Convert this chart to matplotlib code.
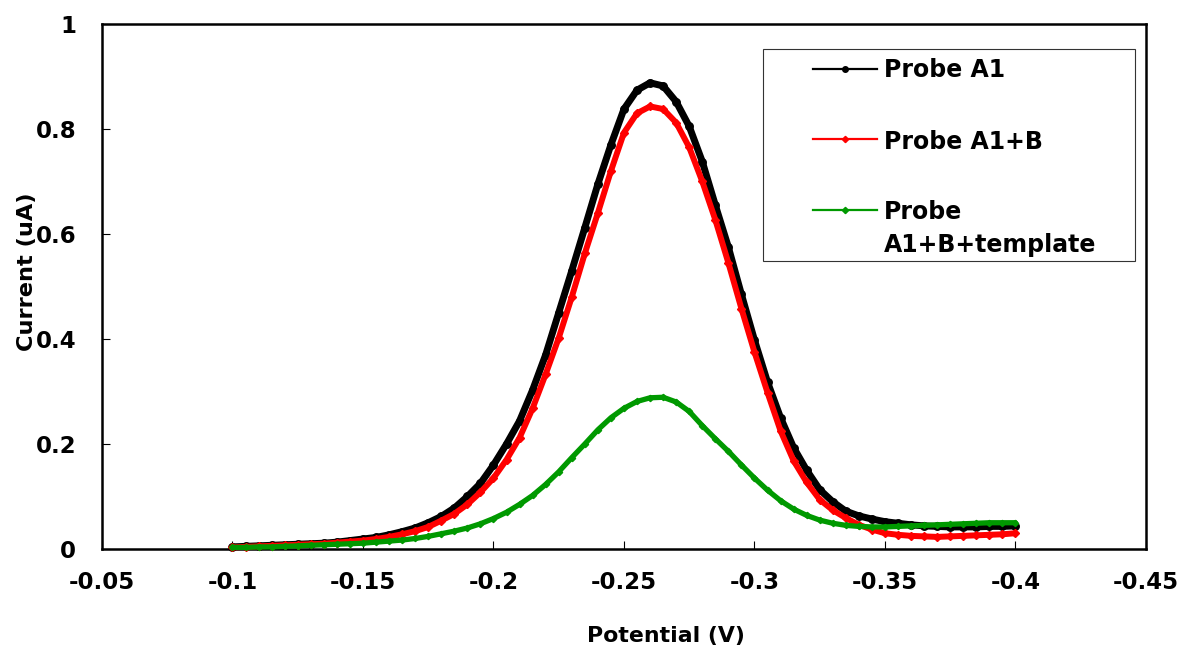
#!/usr/bin/env python3
"""
Square-wave voltammograms of three probe stages: current vs potential.
Values were read off the original figure every 5 mV.
"""
import numpy as np
import matplotlib
matplotlib.use('Agg')
import matplotlib.pyplot as plt
from matplotlib.lines import Line2D
from matplotlib.patches import Rectangle
from matplotlib.ticker import FuncFormatter, MultipleLocator

# potential (V), -0.100 ... -0.400 in 5 mV steps
potential = [
    -0.100, -0.105, -0.110, -0.115, -0.120, -0.125, -0.130, -0.135, -0.140, -0.145,
    -0.150, -0.155, -0.160, -0.165, -0.170, -0.175, -0.180, -0.185, -0.190, -0.195,
    -0.200, -0.205, -0.210, -0.215, -0.220, -0.225, -0.230, -0.235, -0.240, -0.245,
    -0.250, -0.255, -0.260, -0.265, -0.270, -0.275, -0.280, -0.285, -0.290, -0.295,
    -0.300, -0.305, -0.310, -0.315, -0.320, -0.325, -0.330, -0.335, -0.340, -0.345,
    -0.350, -0.355, -0.360, -0.365, -0.370, -0.375, -0.380, -0.385, -0.390, -0.395,
    -0.400,
]

# current (uA)
probe_a1 = [
    0.004, 0.005, 0.006, 0.007, 0.008, 0.009, 0.010, 0.011, 0.013, 0.016,
    0.019, 0.022, 0.027, 0.033, 0.040, 0.050, 0.062, 0.078, 0.100, 0.125,
    0.160, 0.200, 0.244, 0.303, 0.370, 0.450, 0.530, 0.612, 0.695, 0.770,
    0.838, 0.874, 0.888, 0.882, 0.852, 0.805, 0.738, 0.655, 0.575, 0.485,
    0.398, 0.318, 0.250, 0.193, 0.150, 0.113, 0.090, 0.072, 0.063, 0.057,
    0.052, 0.049, 0.046, 0.044, 0.043, 0.042, 0.042, 0.042, 0.043, 0.043,
    0.044,
]
probe_a1_b = [
    0.003, 0.004, 0.005, 0.006, 0.007, 0.008, 0.009, 0.010, 0.012, 0.014,
    0.016, 0.019, 0.023, 0.028, 0.034, 0.042, 0.054, 0.067, 0.085, 0.108,
    0.135, 0.170, 0.212, 0.268, 0.333, 0.402, 0.480, 0.563, 0.640, 0.720,
    0.793, 0.830, 0.843, 0.838, 0.812, 0.765, 0.700, 0.627, 0.545, 0.458,
    0.375, 0.298, 0.225, 0.168, 0.127, 0.094, 0.074, 0.059, 0.046, 0.037,
    0.030, 0.027, 0.025, 0.024, 0.023, 0.024, 0.025, 0.026, 0.027, 0.028,
    0.030,
]
probe_a1_b_template = [
    0.003, 0.003, 0.004, 0.004, 0.005, 0.006, 0.007, 0.008, 0.009, 0.010,
    0.011, 0.013, 0.015, 0.017, 0.020, 0.024, 0.029, 0.034, 0.040, 0.048,
    0.058, 0.070, 0.085, 0.102, 0.123, 0.147, 0.174, 0.200, 0.227, 0.250,
    0.268, 0.281, 0.288, 0.289, 0.280, 0.262, 0.235, 0.210, 0.186, 0.160,
    0.135, 0.112, 0.092, 0.076, 0.064, 0.055, 0.049, 0.045, 0.043, 0.042,
    0.042, 0.043, 0.044, 0.045, 0.046, 0.047, 0.048, 0.049, 0.050, 0.050,
    0.050,
]

series_labels = ['Probe A1', 'Probe A1+B', 'Probe', 'A1+B+template']
x_ticks = [-0.05, -0.1, -0.15, -0.2, -0.25, -0.3, -0.35, -0.4, -0.45]

BLACK = '#000000'
RED = '#ff0000'
GREEN = '#009900'

plt.rcParams['font.family'] = ['DejaVu Sans']
plt.rcParams['font.weight'] = 'bold'

fig = plt.figure(figsize=(11.82, 6.47), dpi=100)
ax = fig.add_axes([0.0863, 0.1515, 0.8832, 0.8114])

x = np.array(potential)
common = dict(solid_capstyle='round', solid_joinstyle='round', clip_on=False)
ax.plot(x, probe_a1, color=BLACK, lw=5.0, marker='o', ms=5.4, zorder=3, **common)
ax.plot(x, probe_a1_b, color=RED, lw=4.3, marker='D', ms=3.8, zorder=4, **common)
ax.plot(x, probe_a1_b_template, color=GREEN, lw=3.8, marker='D', ms=3.2, zorder=5, **common)

ax.set_xlim(-0.05, -0.45)
ax.set_ylim(0, 1)
ax.set_xticks(x_ticks)
ax.yaxis.set_major_locator(MultipleLocator(0.2))
fmt = FuncFormatter(lambda v, pos: '%g' % round(v, 3))
ax.xaxis.set_major_formatter(fmt)
ax.yaxis.set_major_formatter(fmt)

ax.tick_params(axis='x', direction='in', length=6, width=0.8, pad=15.5,
               labelsize=16.5, top=False)
ax.tick_params(axis='y', direction='in', length=6, width=0.8, pad=18.5,
               labelsize=16.5, right=False)
for sp in ax.spines.values():
    sp.set_linewidth(1.8)

ax.set_xlabel('Potential (V)', fontsize=15.8, fontweight='bold')
ax.set_ylabel('Current (uA)', fontsize=16.2, fontweight='bold')
ax.xaxis.set_label_coords(0.540, -0.146)
ax.yaxis.set_label_coords(-0.0625, 0.5276)

# legend box drawn by hand so the handle sits on the first text line
box = Rectangle((0.633, 0.5485), 0.3565, 0.4035, transform=ax.transAxes,
                facecolor='white', edgecolor='#333333', lw=0.8, zorder=6)
ax.add_patch(box)
rows = [(0.914, BLACK, 'o', 4.0), (0.781, RED, 'D', 3.2), (0.646, GREEN, 'D', 3.2)]
for (yy, col, mk, ms) in rows:
    ax.add_line(Line2D([0.681, 0.742], [yy, yy], transform=ax.transAxes,
                       color=col, lw=1.6, zorder=7))
    ax.add_line(Line2D([0.7115], [yy], transform=ax.transAxes, color=col,
                       marker=mk, ms=ms, zorder=7))
text_y = [0.8985, 0.7615, 0.6286, 0.5665]
for lab, yy in zip(series_labels, text_y):
    ax.text(0.749, yy, lab, transform=ax.transAxes, fontsize=17,
            fontweight='bold', va='baseline', ha='left', zorder=7)

fig.savefig('out.png', dpi=100)
